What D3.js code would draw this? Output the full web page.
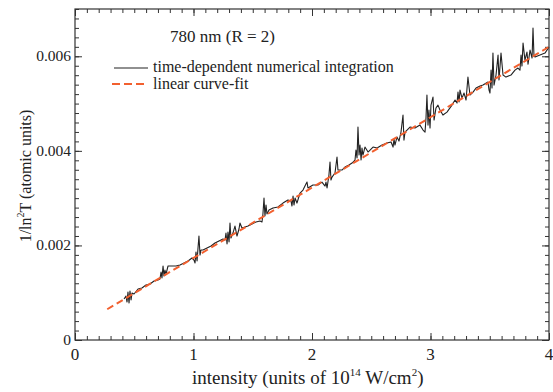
<!DOCTYPE html>
<html>
<head>
<meta charset="utf-8">
<script src="https://cdn.jsdelivr.net/npm/d3@7"></script>
<style>
  body { margin: 0; background: #fff; }
  svg { display: block; font-family: "Liberation Serif", "DejaVu Serif", serif; }
</style>
</head>
<body>
<div id="chart"></div>
<script>
// x tick values and labels
var xTicks = [0, 1, 2, 3, 4];
var xTickLabels = ["0", "1", "2", "3", "4"];
var yTicks = [0, 0.002, 0.004, 0.006];
var yTickLabels = ["0", "0.002", "0.004", "0.006"];

// linear curve-fit end points
var fitX = [0.272, 4.0];
var fitY = [0.00065, 0.0062];

// time-dependent numerical integration (intensity, 1/ln^2 T)
var numX = [0.414, 0.430, 0.439, 0.447, 0.456, 0.464, 0.473, 0.481, 0.498, 0.532, 0.565, 0.599, 0.633, 0.667, 0.700,
  0.717, 0.726, 0.734, 0.743, 0.751, 0.759, 0.768, 0.785, 0.819, 0.852, 0.886, 0.920, 0.954, 0.987,
  1.004, 1.013, 1.021, 1.030, 1.038, 1.046, 1.055, 1.063, 1.080, 1.114, 1.148, 1.181, 1.215, 1.249,
  1.266, 1.274, 1.283, 1.291, 1.300, 1.308, 1.316, 1.333, 1.350, 1.367, 1.384, 1.392, 1.409, 1.435, 1.460, 1.494, 1.527, 1.561,
  1.578, 1.586, 1.595, 1.603, 1.612, 1.620, 1.637, 1.671, 1.713, 1.755, 1.797,
  1.823, 1.831, 1.840, 1.848, 1.857, 1.873, 1.899, 1.924, 1.949, 1.958, 1.966, 2.008, 2.051, 2.084,
  2.110, 2.118, 2.127, 2.143, 2.152, 2.160, 2.169, 2.194, 2.211, 2.219, 2.253, 2.278, 2.312, 2.338,
  2.363, 2.371, 2.380, 2.388, 2.397, 2.405, 2.414, 2.422, 2.430, 2.447, 2.473, 2.515, 2.549, 2.591, 2.633, 2.667,
  2.684, 2.692, 2.700, 2.717, 2.734, 2.751, 2.768, 2.776, 2.785, 2.802, 2.827, 2.869, 2.911, 2.937,
  2.954, 2.962, 2.970, 2.979, 2.987, 2.996, 3.004, 3.021, 3.030, 3.046, 3.063, 3.080, 3.105, 3.139, 3.181, 3.207,
  3.224, 3.232, 3.241, 3.249, 3.266, 3.283, 3.300, 3.316, 3.333, 3.359, 3.384, 3.418, 3.443, 3.485,
  3.494, 3.502, 3.511, 3.519, 3.527, 3.536, 3.553, 3.570, 3.578, 3.595, 3.612, 3.637, 3.679, 3.713, 3.738,
  3.755, 3.764, 3.772, 3.781, 3.797, 3.814, 3.823, 3.840, 3.857, 3.865, 3.873, 3.882, 3.924, 3.966, 4.000];
var numY = [0.000867, 0.000930, 0.000803, 0.001015, 0.000782, 0.001036, 0.000846, 0.000994, 0.000973, 0.001078, 0.001099, 0.001163, 0.001184, 0.001247, 0.001269,
  0.001290, 0.001438, 0.001311, 0.001565, 0.001353, 0.001480, 0.001395, 0.001565, 0.001565, 0.001565, 0.001586, 0.001628, 0.001670, 0.001734,
  0.001691, 0.001628, 0.001860, 0.001670, 0.001945, 0.002199, 0.001797, 0.001903, 0.001903, 0.001945, 0.001987, 0.002051, 0.002093, 0.002135,
  0.002114, 0.002262, 0.002030, 0.002283, 0.002072, 0.002474, 0.002156, 0.002262, 0.002410, 0.002199, 0.002347, 0.002474, 0.002368, 0.002389, 0.002410, 0.002452, 0.002495, 0.002516,
  0.002495, 0.002664, 0.003002, 0.002622, 0.002854, 0.002664, 0.002748, 0.002791, 0.002812, 0.002896, 0.002960,
  0.002939, 0.002833, 0.003044, 0.002854, 0.003002, 0.002896, 0.003108, 0.003171, 0.003298, 0.003340, 0.003214, 0.003277, 0.003277, 0.003340,
  0.003256, 0.003340, 0.003214, 0.003488, 0.003763, 0.003383, 0.003446, 0.003531, 0.003869, 0.003594, 0.003594, 0.003658, 0.003700, 0.003742,
  0.003806, 0.004017, 0.003848, 0.004503, 0.003911, 0.004123, 0.003806, 0.004059, 0.003911, 0.004080, 0.003975, 0.004080, 0.004059, 0.004123, 0.004165, 0.004186,
  0.004080, 0.004249, 0.004123, 0.004292, 0.004207, 0.004397, 0.004757, 0.004228, 0.004397, 0.004440, 0.004503, 0.004482, 0.004545, 0.004440,
  0.004397, 0.004693, 0.005180, 0.004545, 0.004863, 0.004482, 0.004968, 0.005137, 0.004651, 0.004905, 0.004968, 0.004863, 0.004757, 0.004820, 0.004968, 0.005074,
  0.005011, 0.005243, 0.005032, 0.005285, 0.005116, 0.005222, 0.005074, 0.005560, 0.005180, 0.005243, 0.005328, 0.005370, 0.005391, 0.005455,
  0.005285, 0.005222, 0.005708, 0.005328, 0.006068, 0.005391, 0.005603, 0.006025, 0.005497, 0.006068, 0.005603, 0.005560, 0.005603, 0.005708, 0.005751,
  0.005708, 0.006025, 0.005793, 0.006279, 0.005920, 0.006089, 0.005835, 0.006131, 0.005962, 0.006596, 0.006025, 0.005983, 0.006025, 0.006068, 0.006195];

var svgWidth = 553, svgHeight = 392;
var margin = {top: 9, right: 4, bottom: 52, left: 75};
var width = svgWidth - margin.left - margin.right;
var height = svgHeight - margin.top - margin.bottom;

var svg = d3.select("#chart").append("svg")
  .attr("width", svgWidth)
  .attr("height", svgHeight);

var g = svg.append("g")
  .attr("transform", "translate(" + margin.left + "," + margin.top + ")");

var x = d3.scaleLinear().domain([0, 4]).range([0, width]);
var y = d3.scaleLinear().domain([0, 0.007]).range([height, 0]);

var axisColor = "#333";
var textColor = "#222";

// minor ticks on all four sides, pointing inward
function minor(axis, scale, n) {
  return axis(scale).ticks(n).tickSize(-4).tickFormat("");
}
function major(axis, scale, vals) {
  return axis(scale).tickValues(vals).tickSize(-7).tickFormat("");
}

g.append("g").attr("transform", "translate(0," + height + ")").call(minor(d3.axisBottom, x, 40));
g.append("g").call(minor(d3.axisTop, x, 40));
g.append("g").call(minor(d3.axisLeft, y, 35));
g.append("g").attr("transform", "translate(" + width + ",0)").call(minor(d3.axisRight, y, 35));

g.append("g").attr("transform", "translate(0," + height + ")").call(major(d3.axisBottom, x, xTicks));
g.append("g").call(major(d3.axisTop, x, xTicks));
g.append("g").call(major(d3.axisLeft, y, yTicks));
g.append("g").attr("transform", "translate(" + width + ",0)").call(major(d3.axisRight, y, yTicks));

g.selectAll(".domain").remove();
g.selectAll(".tick line").attr("stroke", axisColor);

// tick labels
g.selectAll(".xlab").data(xTicks).enter().append("text")
  .attr("x", d => x(d))
  .attr("y", height + 20)
  .attr("text-anchor", "middle")
  .attr("font-size", 17)
  .attr("fill", textColor)
  .text((d, i) => xTickLabels[i]);

g.selectAll(".ylab").data(yTicks).enter().append("text")
  .attr("x", -4)
  .attr("y", d => y(d) + 5)
  .attr("text-anchor", "end")
  .attr("font-size", 15.5)
  .attr("fill", textColor)
  .text((d, i) => yTickLabels[i]);

// frame
g.append("rect")
  .attr("width", width)
  .attr("height", height)
  .attr("fill", "none")
  .attr("stroke", axisColor)
  .attr("stroke-width", 1.2);

// data
var fitData = fitX.map((d, i) => [d, fitY[i]]);
var numData = numX.map((d, i) => [d, numY[i]]);

var line = d3.line()
  .x(d => x(d[0]))
  .y(d => y(d[1]));

g.append("path")
  .datum(numData)
  .attr("fill", "none")
  .attr("stroke", "#222")
  .attr("stroke-width", 1.1)
  .attr("stroke-linejoin", "round")
  .attr("d", line);

g.append("path")
  .datum(fitData)
  .attr("fill", "none")
  .attr("stroke", "#f2602f")
  .attr("stroke-width", 2)
  .attr("stroke-dasharray", "7,4")
  .attr("d", line);

// legend
svg.append("text")
  .attr("x", 170)
  .attr("y", 42)
  .attr("font-size", 17)
  .attr("fill", textColor)
  .text("780 nm (R = 2)");

svg.append("line")
  .attr("x1", 114).attr("x2", 148)
  .attr("y1", 68).attr("y2", 68)
  .attr("stroke", "#222").attr("stroke-width", 1.1);
svg.append("text")
  .attr("x", 153).attr("y", 72)
  .attr("font-size", 16)
  .attr("fill", textColor)
  .text("time-dependent numerical integration");

svg.append("line")
  .attr("x1", 112).attr("x2", 148)
  .attr("y1", 84).attr("y2", 84)
  .attr("stroke", "#f2602f").attr("stroke-width", 2)
  .attr("stroke-dasharray", "8,4");
svg.append("text")
  .attr("x", 153).attr("y", 89)
  .attr("font-size", 16)
  .attr("fill", textColor)
  .text("linear curve-fit");

// axis titles
var xt = svg.append("text")
  .attr("x", 192)
  .attr("y", 384)
  .attr("font-size", 19)
  .attr("fill", textColor);
xt.append("tspan").text("intensity (units of 10");
xt.append("tspan").attr("dy", -8).attr("font-size", 11).text("14");
xt.append("tspan").attr("dy", 8).text(" W/cm");
xt.append("tspan").attr("dy", -8).attr("font-size", 11).text("2");
xt.append("tspan").attr("dy", 8).text(")");

var yt = svg.append("text")
  .attr("transform", "translate(31," + 176 + ") rotate(-90)")
  .attr("text-anchor", "middle")
  .attr("font-size", 16)
  .attr("fill", textColor);
yt.append("tspan").text("1/ln");
yt.append("tspan").attr("dy", -7).attr("font-size", 10).text("2");
yt.append("tspan").attr("dy", 7).text("T (atomic units)");
</script>
</body>
</html>
